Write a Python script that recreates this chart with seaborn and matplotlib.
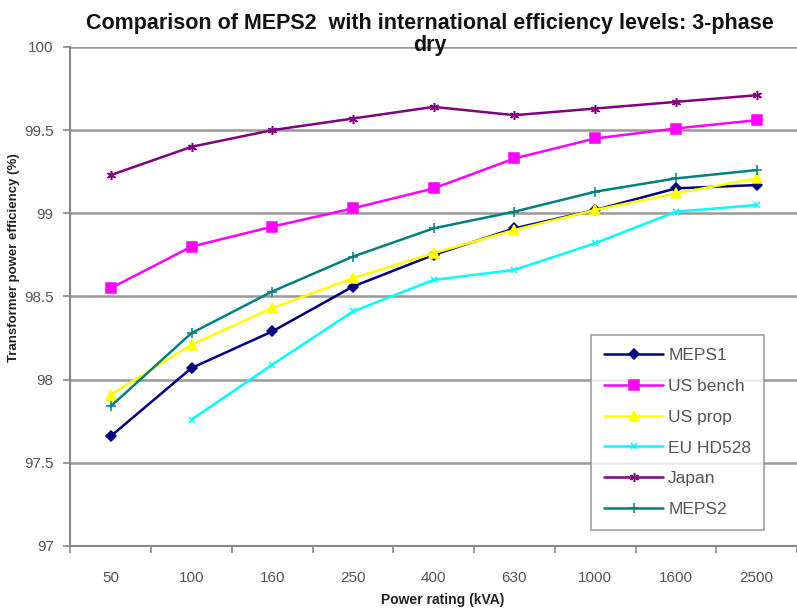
import matplotlib
matplotlib.use("Agg")
import matplotlib.pyplot as plt
import seaborn as sns
import numpy as np
import pandas as pd

categories = ["50", "100", "160", "250", "400", "630", "1000", "1600", "2500"]
meps1 = [97.66, 98.07, 98.29, 98.56, 98.75, 98.91, 99.02, 99.15, 99.17]
us_bench = [98.55, 98.80, 98.92, 99.03, 99.15, 99.33, 99.45, 99.51, 99.56]
us_prop = [97.91, 98.21, 98.43, 98.61, 98.76, 98.90, 99.02, 99.12, 99.21]
eu_hd528 = [np.nan, 97.76, 98.09, 98.41, 98.60, 98.66, 98.82, 99.01, 99.05]
japan = [99.23, 99.40, 99.50, 99.57, 99.64, 99.59, 99.63, 99.67, 99.71]
meps2 = [97.84, 98.28, 98.53, 98.74, 98.91, 99.01, 99.13, 99.21, 99.26]
series_names = ["MEPS1", "US bench", "US prop", "EU HD528", "Japan", "MEPS2"]
yticks = [97, 97.5, 98, 98.5, 99, 99.5, 100]
ytick_labels = ["97", "97.5", "98", "98.5", "99", "99.5", "100"]

sns.set_theme(style="white")
plt.rcParams["font.family"] = ["Liberation Sans", "DejaVu Sans"]

fig = plt.figure(figsize=(7.97, 6.08), dpi=100)
fig.patch.set_facecolor("white")
ax = fig.add_axes([70.4 / 797, (608 - 546) / 608, 1 - 70.4 / 797, (546 - 47) / 608])

series_vals = [meps1, us_bench, us_prop, eu_hd528, japan, meps2]
colors = ["#000080", "#FF00FF", "#FFFF00", "#00FFFF", "#800080", "#008080"]
markers = ["D", "s", "^", "x", (6, 2, 0), "+"]
msizes = [5.5, 7.5, 6.5, 4.5, 6.5, 7]

x = np.arange(len(categories))
for name, vals, c, m, ms in zip(series_names, series_vals, colors, markers, msizes):
    df = pd.DataFrame({"x": x, "y": vals})
    sns.lineplot(data=df, x="x", y="y", ax=ax, color=c, marker=m, markersize=ms,
                 markeredgecolor=c, markerfacecolor=c, markeredgewidth=1.1,
                 linewidth=1.8, label=name)

ax.set_xlim(-0.5, 8.24)
ax.set_ylim(97, 100)
ax.set_yticks(yticks)
ax.set_yticklabels(ytick_labels)
ax.set_xticks(x)
ax.set_xticklabels(categories)
ax.set_xticks(np.arange(-0.5, 9.0, 1.0), minor=True)
ax.tick_params(axis="x", which="major", length=0, pad=18, labelsize=11, labelcolor="#555555")
ax.tick_params(axis="x", which="minor", length=5, width=1.2, color="#888888", direction="out", bottom=True)
ax.tick_params(axis="y", length=5, width=1.2, color="#888888", direction="out", left=True,
               labelsize=11, labelcolor="#555555", pad=7)

for yv in yticks[1:]:
    ax.axhline(yv, color="#999999", linewidth=1.8, zorder=0.5)

for s in ["top", "right"]:
    ax.spines[s].set_visible(False)
for s in ["left", "bottom"]:
    ax.spines[s].set_color("#888888")
    ax.spines[s].set_linewidth(1.5)

ax.set_xlabel("")
ax.set_ylabel("")
fig.text(443 / 797, 1 - 600 / 608, "Power rating (kVA)", ha="center", va="center",
         fontsize=10, fontweight="bold", color="#222222")
fig.text(14 / 797, 1 - 258 / 608, "Transformer power efficiency (%)", ha="center", va="center",
         rotation=90, fontsize=9.5, fontweight="bold", color="#222222")
fig.text(430 / 797, 1 - 24 / 608, "Comparison of MEPS2  with international efficiency levels: 3-phase",
         ha="center", va="center", fontsize=15.5, fontweight="bold", color="#111111")
fig.text(430 / 797, 1 - 45 / 608, "dry",
         ha="center", va="center", fontsize=15.5, fontweight="bold", color="#111111")

leg = ax.legend(loc="upper left", bbox_to_anchor=((591 - 70.4) / (797 - 70.4), 1 - (335 - 47) / 499),
                frameon=True, fancybox=False, fontsize=12.5, labelspacing=0.9,
                handlelength=3.4, borderpad=0.75, handletextpad=0.3, borderaxespad=0)
leg.get_frame().set_edgecolor("#888888")
leg.get_frame().set_linewidth(1.2)
for t in leg.get_texts():
    t.set_color("#555555")

fig.savefig("out.png", dpi=100, facecolor="white")
